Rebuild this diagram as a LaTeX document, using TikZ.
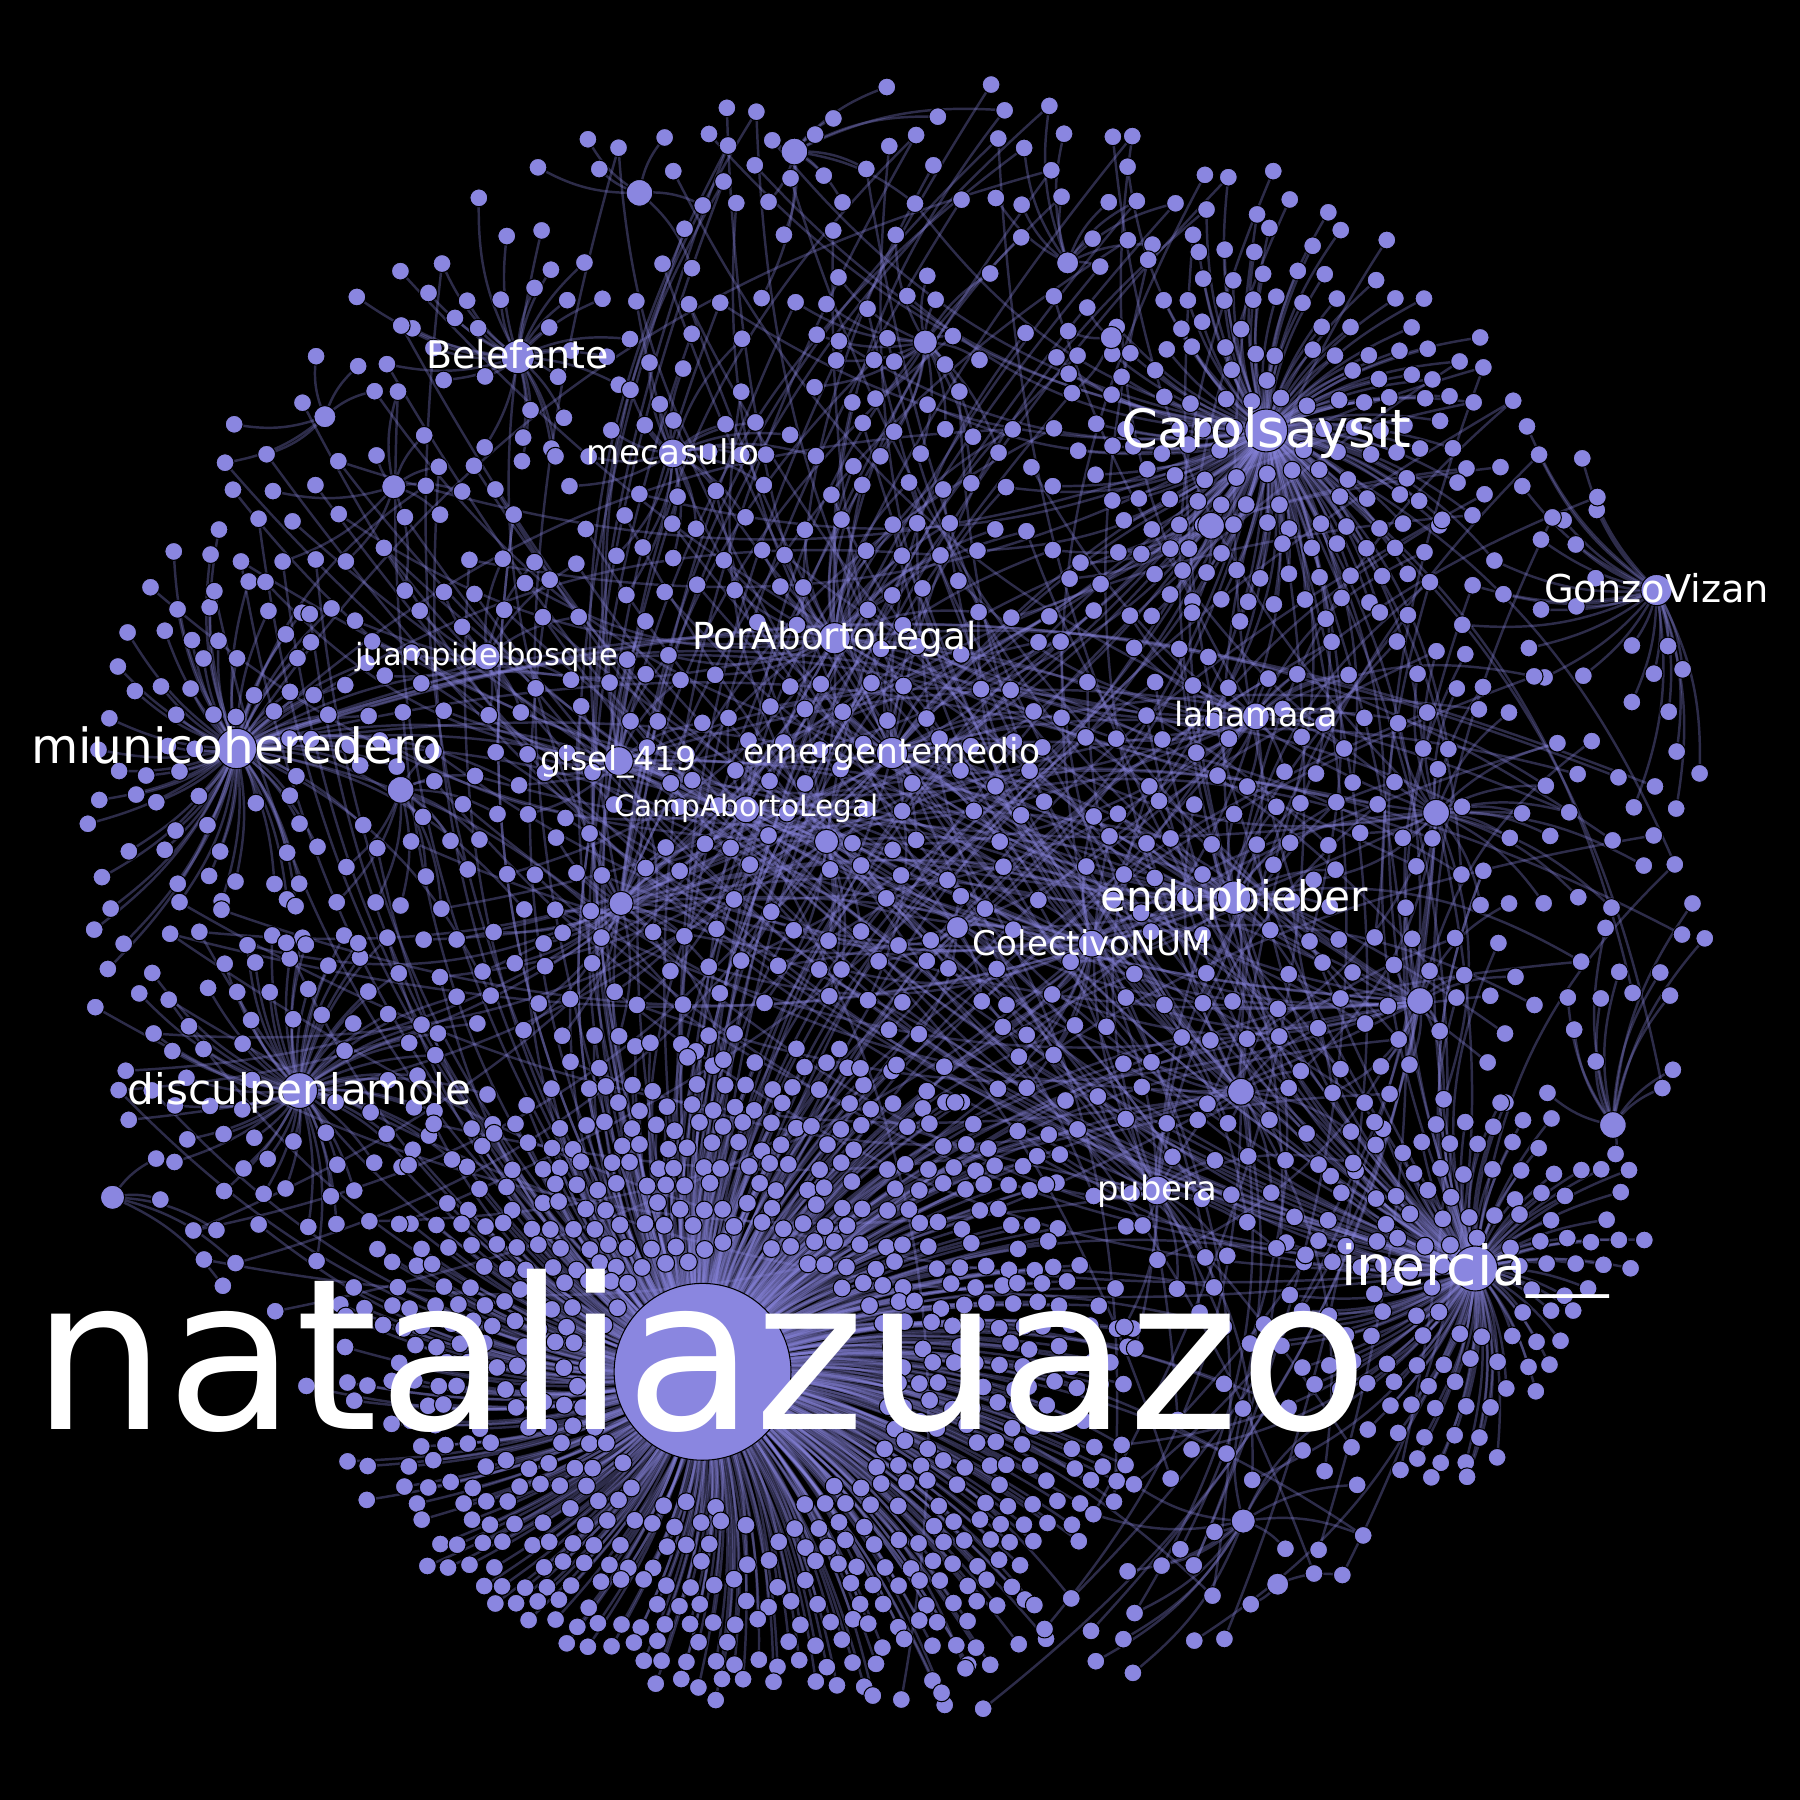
\documentclass[tikz,border=0pt]{standalone}
\usepackage{fontspec}
\setmainfont{DejaVu Sans}
\definecolor{dotc}{HTML}{8A86E0}
\tikzset{
  dt/.style={circle,fill=dotc,draw=black,line width=0.3pt,inner sep=0pt,minimum size=5.1pt},
  hb/.style={circle,fill=dotc,draw=black,line width=0.3pt,inner sep=0pt},
  lnk/.style={draw=dotc,draw opacity=0.33,line width=0.7pt},
  lbl/.style={text=white,inner sep=0pt,anchor=base},
}
\def\ok{1}
\def\cdo#1#2#3#4{\ifnum\numexpr(\ix-#1)*(\ix-#1)+((\iy-#2)*#4/100)*((\iy-#2)*#4/100)\relax<\numexpr#3*#3\relax\def\ok{0}\fi}
\def\hubdo#1#2#3#4{\edef\tmpd{\the\numexpr((\ix-#2)*(\ix-#2)+(\iy-#3)*(\iy-#3))/#4\relax}\ifnum\tmpd<\bestd\relax\let\bestd\tmpd\def\besth{#1}\fi}
\def\nearesthub{\def\bestd{2147483647}\def\besth{natalia}\hublist}
\def\hublist{\hubdo{natalia}{612}{1195}{8}\hubdo{carol}{1103}{375}{4}\hubdo{inercia}{1285}{1105}{4}%
\hubdo{miunico}{206}{652}{4}\hubdo{disculpen}{261}{950}{3}\hubdo{belefante}{451}{311}{3}%
\hubdo{mecasullo}{586}{395}{2}\hubdo{porab}{727}{556}{3}\hubdo{juampi}{424}{572}{2}%
\hubdo{gisel}{539}{663}{2}\hubdo{emerg}{777}{656}{3}\hubdo{camp}{650}{705}{2}%
\hubdo{lahamaca}{1094}{624}{2}\hubdo{gonzo}{1443}{514}{3}\hubdo{endup}{1075}{782}{3}%
\hubdo{colec}{951}{822}{2}\hubdo{pubera}{1008}{1037}{2}%
\hubdo{m1}{692}{132}{2}\hubdo{m2}{557}{168}{2}\hubdo{m3}{806}{298}{2}\hubdo{m4}{1055}{458}{2}%
\hubdo{m5}{1081}{951}{2}\hubdo{m6}{1237}{872}{2}\hubdo{m7}{1251}{708}{2}\hubdo{m8}{1405}{980}{2}%
\hubdo{m9}{1083}{1325}{2}\hubdo{m10}{98}{1043}{2}\hubdo{m11}{343}{424}{2}\hubdo{m12}{349}{688}{2}%
\hubdo{m13}{541}{787}{2}\hubdo{m14}{720}{733}{2}\hubdo{m15}{834}{808}{1}\hubdo{m16}{968}{294}{1}%
\hubdo{m17}{283}{363}{1}\hubdo{m18}{1113}{1380}{1}\hubdo{m19}{930}{229}{1}}
\def\clist{\cdo{645}{1205}{335}{119}\cdo{1105}{375}{168}{100}\cdo{1285}{1120}{150}{100}%
\cdo{207}{655}{135}{100}\cdo{255}{945}{120}{100}\cdo{451}{308}{92}{100}\cdo{1420}{530}{100}{100}%
\cdo{586}{395}{24}{100}\cdo{727}{556}{24}{100}\cdo{424}{572}{22}{100}\cdo{539}{663}{22}{100}%
\cdo{777}{656}{24}{100}\cdo{650}{705}{22}{100}\cdo{1094}{624}{22}{100}\cdo{1075}{782}{24}{100}%
\cdo{951}{822}{22}{100}\cdo{1008}{1037}{22}{100}%
\cdo{692}{132}{22}{100}\cdo{557}{168}{22}{100}\cdo{806}{298}{22}{100}\cdo{1055}{458}{22}{100}%
\cdo{1081}{951}{22}{100}\cdo{1237}{872}{22}{100}\cdo{1251}{708}{22}{100}\cdo{1405}{980}{22}{100}%
\cdo{1083}{1325}{22}{100}\cdo{98}{1043}{22}{100}\cdo{343}{424}{22}{100}\cdo{349}{688}{22}{100}%
\cdo{541}{787}{22}{100}\cdo{720}{733}{22}{100}\cdo{834}{808}{20}{100}\cdo{968}{294}{20}{100}%
\cdo{283}{363}{20}{100}\cdo{1113}{1380}{20}{100}\cdo{930}{229}{20}{100}}
\pgfmathdeclarerandomlist{rh}{{natalia}{natalia}{natalia}{natalia}{carol}{carol}{inercia}{inercia}{porab}{emerg}{endup}{colec}{camp}{lahamaca}{pubera}{miunico}{gisel}{m5}{m6}{m7}{m13}{m14}}
% pass 1: positions (named coordinates) and connectors
% #1 hub, #2 cx, #3 cy, #4 rin, #5 rout, #6 spacing, #7 keep%, #8 tag, #9 vertical factor
\newcommand\cloud[9]{%
  \pgfmathtruncatemacro\nrows{2*#5/(#6*0.866)}%
  \pgfmathtruncatemacro\ncols{2*#5/#6}%
  \foreach \ri in {0,...,\nrows}{%
    \foreach \ci in {0,...,\ncols}{%
      \pgfmathsetmacro\px{#2-#5+\ci*#6+mod(\ri,2)*#6/2+0.2*#6*rand}%
      \pgfmathsetmacro\py{#3-#5+\ri*#6*0.866+0.2*#6*rand}%
      \pgfmathtruncatemacro\ix{\px}%
      \pgfmathtruncatemacro\iy{\py}%
      \pgfmathtruncatemacro\rlim{#5*(0.86+0.26*rnd)}%
      \pgfmathtruncatemacro\kp{100*rnd}%
      \edef\dd{\the\numexpr(\ix-#2)*(\ix-#2)+((\iy-#3)*#9/100)*((\iy-#3)*#9/100)\relax}%
      \edef\dg{\the\numexpr(\ix-782)*(\ix-782)+(\iy-783)*(\iy-783)\relax}%
      \ifnum\dd>\numexpr#4*#4\relax
       \ifnum\dd<\numexpr\rlim*\rlim\relax
        \ifnum\dg<511225
         \ifnum\kp<#7
          \coordinate (#8-\ri-\ci) at (\px,\py);
          \draw[lnk] (#1) to[bend left=12] (#8-\ri-\ci);
         \fi
        \fi
       \fi
      \fi
    }%
  }%
}
% pass 2: dots on top of the connectors
\newcommand\clouddots[3]{%
  \pgfmathtruncatemacro\nrows{2*#2/(#3*0.866)}%
  \pgfmathtruncatemacro\ncols{2*#2/#3}%
  \foreach \ri in {0,...,\nrows}{%
    \foreach \ci in {0,...,\ncols}{%
      \ifcsname pgf@sh@ns@#1-\ri-\ci\endcsname
        \node[dt] (#1d-\ri-\ci) at (#1-\ri-\ci) {};
      \fi
    }%
  }%
}
\begin{document}
\begin{tikzpicture}[x=0.01148cm,y=-0.01148cm]
\pgfmathsetseed{4242}
\useasboundingbox (0,0) rectangle (1568,1568);
\fill[black] (0,0) rectangle (1568,1568);
% hub positions
\coordinate (natalia) at (612,1195);
\coordinate (carol) at (1103,375);
\coordinate (inercia) at (1285,1105);
\coordinate (miunico) at (206,652);
\coordinate (disculpen) at (261,950);
\coordinate (belefante) at (451,311);
\coordinate (mecasullo) at (586,395);
\coordinate (porab) at (727,556);
\coordinate (juampi) at (424,572);
\coordinate (gisel) at (539,663);
\coordinate (emerg) at (777,656);
\coordinate (camp) at (650,705);
\coordinate (lahamaca) at (1094,624);
\coordinate (gonzo) at (1443,514);
\coordinate (endup) at (1075,782);
\coordinate (colec) at (951,822);
\coordinate (pubera) at (1008,1037);
\coordinate (m1) at (692,132);
\coordinate (m2) at (557,168);
\coordinate (m3) at (806,298);
\coordinate (m4) at (1055,458);
\coordinate (m5) at (1081,951);
\coordinate (m6) at (1237,872);
\coordinate (m7) at (1251,708);
\coordinate (m8) at (1405,980);
\coordinate (m9) at (1083,1325);
\coordinate (m10) at (98,1043);
\coordinate (m11) at (343,424);
\coordinate (m12) at (349,688);
\coordinate (m13) at (541,787);
\coordinate (m14) at (720,733);
\coordinate (m15) at (834,808);
\coordinate (m16) at (968,294);
\coordinate (m17) at (283,363);
\coordinate (m18) at (1113,1380);
\coordinate (m19) at (930,229);
% dense clusters
\cloud{natalia}{645}{1205}{130}{345}{20}{86}{na}{119}
\cloud{carol}{1105}{375}{30}{178}{25}{85}{ca}{100}
\cloud{inercia}{1285}{1120}{32}{162}{24}{85}{in}{100}
\cloud{miunico}{207}{655}{30}{147}{27}{85}{mi}{100}
\cloud{disculpen}{255}{945}{28}{132}{29}{80}{di}{100}
\cloud{belefante}{451}{308}{25}{104}{30}{78}{be}{100}
\cloud{gonzo}{1420}{530}{25}{110}{32}{72}{go}{100}
% scattered nodes
\foreach \ri in {0,...,51}{\foreach \ci in {0,...,45}{%
  \pgfmathsetmacro\px{66+\ci*32+mod(\ri,2)*16+8*rand}%
  \pgfmathsetmacro\py{68+\ri*27.7+8*rand}%
  \pgfmathtruncatemacro\ix{\px}%
  \pgfmathtruncatemacro\iy{\py}%
  \pgfmathtruncatemacro\kp{100*rnd}%
  \edef\dg{\the\numexpr(\ix-782)*(\ix-782)+(\iy-783)*(\iy-783)\relax}%
  \def\ok{1}\clist
  \def\kt{76}%
  \ifnum\dg>313600 \def\kt{60}\fi
  \ifnum\ix<330 \ifnum\iy>1120 \def\kt{25}\fi\fi
  \ifnum\ix>1330 \ifnum\iy>1270 \def\kt{0}\fi\fi
  \ifnum\ix<300 \ifnum\iy<330 \def\kt{55}\fi\fi
  \ifnum\ix>1150 \ifnum\iy<250 \def\kt{40}\fi\fi
  \ifnum\dg<511225 \ifnum\ok=1 \ifnum\kp<\kt\relax
    \coordinate (b-\ri-\ci) at (\px,\py);
    \nearesthub
    \pgfmathtruncatemacro\kq{100*rnd}%
    \pgfmathrandomitem{\rh}{rh}%
    \ifnum\kq<62 \draw[lnk] (\besth) to[bend left=15] (b-\ri-\ci);
    \else \draw[lnk] (\rh) to[bend left=20] (b-\ri-\ci);
    \fi
    \pgfmathtruncatemacro\kr{100*rnd}%
    \ifnum\kr<25 \pgfmathrandomitem{\rh}{rh}%
      \draw[lnk] (\rh) to[bend left=20] (b-\ri-\ci);
    \fi
  \fi\fi\fi
}}
% dots
\clouddots{na}{345}{20}
\clouddots{ca}{178}{25}
\clouddots{in}{162}{24}
\clouddots{mi}{147}{27}
\clouddots{di}{132}{29}
\clouddots{be}{104}{30}
\clouddots{go}{110}{32}
\foreach \ri in {0,...,51}{\foreach \ci in {0,...,45}{%
  \ifcsname pgf@sh@ns@b-\ri-\ci\endcsname
    \node[dt] (bd-\ri-\ci) at (b-\ri-\ci) {};
  \fi
}}
% hubs
\node[hb,minimum size=50.3pt] (natalia-n) at (natalia) {};
\node[hb,minimum size=12.2pt] (carol-n) at (carol) {};
\node[hb,minimum size=12.8pt] (inercia-n) at (inercia) {};
\node[hb,minimum size=11.5pt] (miunico-n) at (miunico) {};
\node[hb,minimum size=10.2pt] (disculpen-n) at (disculpen) {};
\node[hb,minimum size=9.5pt] (belefante-n) at (belefante) {};
\node[hb,minimum size=8.2pt] (mecasullo-n) at (mecasullo) {};
\node[hb,minimum size=8.9pt] (porab-n) at (porab) {};
\node[hb,minimum size=7.6pt] (juampi-n) at (juampi) {};
\node[hb,minimum size=8.2pt] (gisel-n) at (gisel) {};
\node[hb,minimum size=8.9pt] (emerg-n) at (emerg) {};
\node[hb,minimum size=7.6pt] (camp-n) at (camp) {};
\node[hb,minimum size=7.6pt] (lahamaca-n) at (lahamaca) {};
\node[hb,minimum size=8.9pt] (gonzo-n) at (gonzo) {};
\node[hb,minimum size=9.5pt] (endup-n) at (endup) {};
\node[hb,minimum size=7.6pt] (colec-n) at (colec) {};
\node[hb,minimum size=8.2pt] (pubera-n) at (pubera) {};
\foreach \m/\s in {m1/7.6,m2/7.6,m3/6.9,m4/7.6,m5/7.6,m6/7.6,m7/7.6,m8/7.6,m9/6.9,m10/6.9,m11/6.9,m12/7.6,m13/6.9,m14/6.9,m15/6.3,m16/6.3,m17/6.3,m18/6.3,m19/6.3}
  \node[hb,minimum size=\s pt] (\m-n) at (\m) {};
% labels
\node[lbl,font=\fontsize{60pt}{62pt}\selectfont] (natalia-l) at (610,1245) {nataliazuazo};
\node[lbl,font=\fontsize{15pt}{16pt}\selectfont] (carol-l) at (1103,390) {Carolsaysit};
\node[lbl,font=\fontsize{15.7pt}{16pt}\selectfont] (inercia-l) at (1285,1120) {inercia\_\_\_};
\node[lbl,font=\fontsize{13.8pt}{14pt}\selectfont] (miunico-l) at (206,665) {miunicoheredero};
\node[lbl,font=\fontsize{12pt}{13pt}\selectfont] (endup-l) at (1075,794) {endupbieber};
\node[lbl,font=\fontsize{12pt}{13pt}\selectfont] (disculpen-l) at (261,962) {disculpenlamole};
\node[lbl,font=\fontsize{10.8pt}{11pt}\selectfont] (belefante-l) at (451,321) {Belefante};
\node[lbl,font=\fontsize{10.9pt}{11pt}\selectfont] (gonzo-l) at (1443,525) {GonzoVizan};
\node[lbl,font=\fontsize{10.6pt}{11pt}\selectfont] (porab-l) at (727,566) {PorAbortoLegal};
\node[lbl,font=\fontsize{9.7pt}{10pt}\selectfont] (mecasullo-l) at (586,405) {mecasullo};
\node[lbl,font=\fontsize{9.8pt}{10pt}\selectfont] (emerg-l) at (777,665) {emergentemedio};
\node[lbl,font=\fontsize{9.7pt}{10pt}\selectfont] (colec-l) at (951,832) {ColectivoNUM};
\node[lbl,font=\fontsize{9.6pt}{10pt}\selectfont] (pubera-l) at (1008,1046) {pubera};
\node[lbl,font=\fontsize{9.5pt}{10pt}\selectfont] (lahamaca-l) at (1094,633) {lahamaca};
\node[lbl,font=\fontsize{9.4pt}{10pt}\selectfont] (gisel-l) at (539,671) {gisel\_419};
\node[lbl,font=\fontsize{8.7pt}{9pt}\selectfont] (juampi-l) at (424,580) {juampidelbosque};
\node[lbl,font=\fontsize{8.4pt}{9pt}\selectfont] (camp-l) at (650,711) {CampAbortoLegal};
\end{tikzpicture}
\end{document}
